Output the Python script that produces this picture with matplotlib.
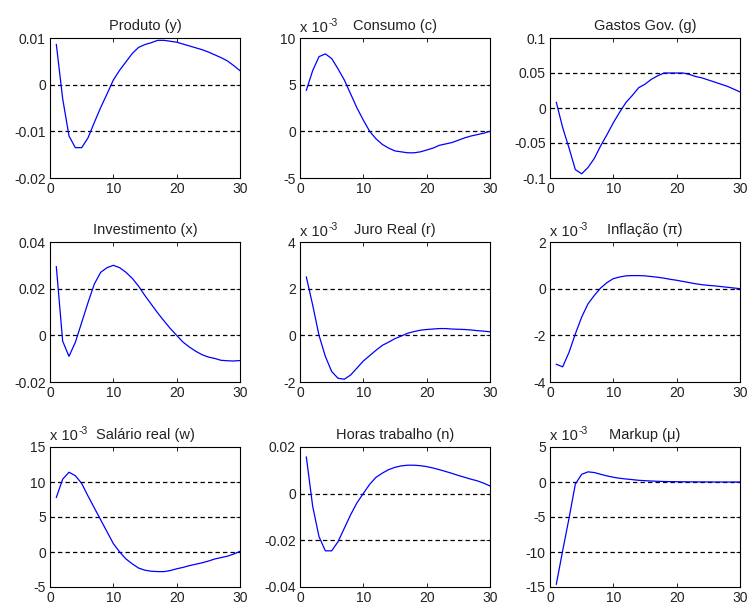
import numpy as np
import matplotlib
matplotlib.use('Agg')
import matplotlib.pyplot as plt

plt.rcParams['font.family'] = ['Liberation Sans', 'DejaVu Sans']
plt.rcParams['font.size'] = 10

# Impulse responses, 30 periods
periods = np.arange(1, 31)

produto = [0.0086, -0.003, -0.011, -0.0135, -0.0135, -0.0114, -0.0081, -0.0049, -0.002, 0.001,
           0.0031, 0.0049, 0.0067, 0.008, 0.0086, 0.009, 0.0095, 0.0095, 0.0093, 0.0091,
           0.0087, 0.0083, 0.0079, 0.0075, 0.007, 0.0064, 0.0058, 0.0051, 0.0041, 0.003]

# values in units of 1e-3
consumo = [4.4, 6.5, 8.0, 8.3, 7.8, 6.7, 5.5, 4.0, 2.5, 1.2,
           0.0, -0.8, -1.4, -1.8, -2.1, -2.2, -2.3, -2.3, -2.2, -2.0,
           -1.8, -1.5, -1.35, -1.2, -0.95, -0.7, -0.5, -0.35, -0.2, 0.0]

gastos = [0.008, -0.028, -0.057, -0.088, -0.094, -0.085, -0.072, -0.054, -0.038, -0.021,
          -0.006, 0.008, 0.018, 0.029, 0.034, 0.041, 0.046, 0.05, 0.05, 0.05,
          0.05, 0.048, 0.045, 0.043, 0.04, 0.037, 0.034, 0.031, 0.027, 0.023]

investimento = [0.0294, -0.0025, -0.009, -0.003, 0.0055, 0.014, 0.022, 0.027, 0.029, 0.030,
                0.029, 0.027, 0.0244, 0.021, 0.017, 0.0133, 0.0096, 0.0062, 0.0029, 0.0,
                -0.0029, -0.005, -0.0068, -0.0083, -0.0093, -0.0099, -0.0107, -0.0109, -0.011, -0.0108]

juro = [2.5, 1.3, 0.0, -0.9, -1.55, -1.84, -1.88, -1.7, -1.4, -1.1,
        -0.87, -0.64, -0.43, -0.29, -0.14, -0.03, 0.09, 0.16, 0.22, 0.25,
        0.27, 0.29, 0.29, 0.27, 0.26, 0.25, 0.23, 0.2, 0.18, 0.15]

inflacao = [-3.24, -3.35, -2.73, -1.94, -1.22, -0.65, -0.29, 0.03, 0.26, 0.43,
            0.5, 0.55, 0.56, 0.56, 0.55, 0.52, 0.49, 0.45, 0.4, 0.36,
            0.31, 0.26, 0.21, 0.17, 0.14, 0.12, 0.09, 0.06, 0.03, 0.0]

salario = [7.8, 10.4, 11.4, 10.9, 9.8, 8.0, 6.3, 4.6, 2.9, 1.2,
           0.0, -1.0, -1.7, -2.3, -2.6, -2.75, -2.8, -2.8, -2.65, -2.4,
           -2.2, -1.95, -1.75, -1.55, -1.3, -1.0, -0.8, -0.6, -0.3, 0.1]

horas = [0.0157, -0.0054, -0.0184, -0.0245, -0.0245, -0.0206, -0.0148, -0.009, -0.0039, 0.0001,
         0.004, 0.007, 0.0088, 0.0103, 0.0113, 0.0119, 0.0122, 0.0122, 0.012, 0.0116,
         0.011, 0.0103, 0.0095, 0.0087, 0.0078, 0.007, 0.0062, 0.0055, 0.0045, 0.0033]

markup = [-14.6, -9.8, -5.2, -0.3, 1.1, 1.45, 1.35, 1.1, 0.87, 0.68,
          0.53, 0.43, 0.34, 0.24, 0.19, 0.14, 0.1, 0.07, 0.05, 0.04,
          0.03, 0.02, 0.02, 0.01, 0.01, 0.0, 0.0, 0.0, 0.0, 0.0]

titles = ['Produto (y)', 'Consumo (c)', 'Gastos Gov. (g)',
          'Investimento (x)', 'Juro Real (r)', 'Inflação (π)',
          'Salário real (w)', 'Horas trabalho (n)', 'Markup (μ)']
series = [produto, consumo, gastos, investimento, juro, inflacao, salario, horas, markup]
scaled = [False, True, False, False, True, True, True, False, True]
yticks = [[-0.02, -0.01, 0, 0.01], [-5, 0, 5, 10], [-0.1, -0.05, 0, 0.05, 0.1],
          [-0.02, 0, 0.02, 0.04], [-2, 0, 2, 4], [-4, -2, 0, 2],
          [-5, 0, 5, 10, 15], [-0.04, -0.02, 0, 0.02], [-15, -10, -5, 0, 5]]
yticklabels = [['-0.02', '-0.01', '0', '0.01'], ['-5', '0', '5', '10'],
               ['-0.1', '-0.05', '0', '0.05', '0.1'], ['-0.02', '0', '0.02', '0.04'],
               ['-2', '0', '2', '4'], ['-4', '-2', '0', '2'],
               ['-5', '0', '5', '10', '15'], ['-0.04', '-0.02', '0', '0.02'],
               ['-15', '-10', '-5', '0', '5']]

W, H = 747, 606
fig = plt.figure(figsize=(W / 100, H / 100), dpi=100)

lefts = [50, 300, 550]
tops = [38, 242, 447]
aw, ah = 190, 140
txt = '#222222'

for i in range(9):
    r, c = divmod(i, 3)
    ax = fig.add_axes([lefts[c] / W, (H - tops[r] - ah) / H, aw / W, ah / H])
    ticks = yticks[i]
    ax.set_xlim(0, 30)
    ax.set_ylim(ticks[0], ticks[-1])
    for t in ticks[1:-1]:
        ax.axhline(t, color='black', linestyle=(0, (3.5, 2.5)), linewidth=0.9)
    ax.plot(periods, series[i], color='#0000ff', linewidth=0.9)
    ax.set_xticks([0, 10, 20, 30])
    ax.set_yticks(ticks)
    ax.set_yticklabels(yticklabels[i])
    ax.tick_params(direction='in', length=3, width=0.6, top=True, right=True, pad=3,
                   labelsize=10, labelcolor=txt)
    for sp in ax.spines.values():
        sp.set_linewidth(0.8)
    ax.set_title(titles[i], pad=6, fontsize=10.5, color=txt)
    if scaled[i]:
        # exponent label sits at the top-left corner, level with the title
        ax.text(0.0, 1.025, 'x 10', transform=ax.transAxes, ha='left', va='bottom',
                fontsize=10.5, color=txt)
        ax.text(0.15, 1.075, '-3', transform=ax.transAxes, ha='left', va='bottom',
                fontsize=7.5, color=txt)

fig.savefig('out.png', dpi=100)
